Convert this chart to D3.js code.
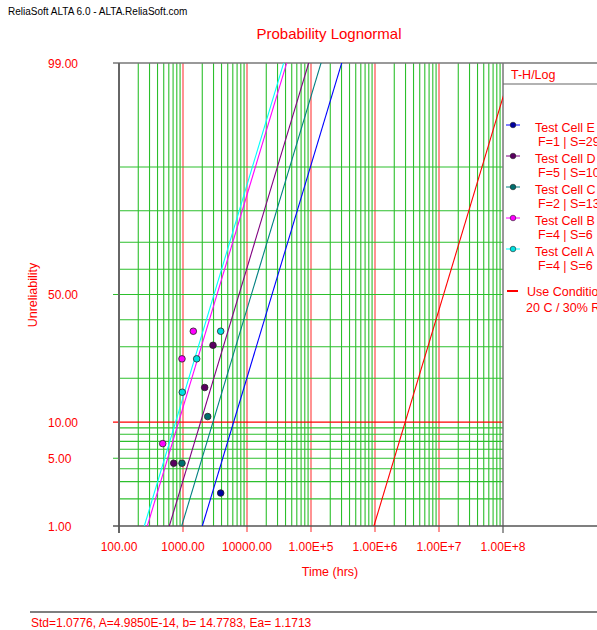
<!DOCTYPE html>
<html><head><meta charset="utf-8">
<script src="https://cdn.jsdelivr.net/npm/d3@7/dist/d3.min.js"></script>
<style>body{margin:0;background:#fff}svg{display:block}text{font-family:"Liberation Sans",Arial,sans-serif}</style>
</head><body><svg id="c" width="597" height="630"></svg>
<script>
// ---- data ----
const seriesNames = ["Test Cell E","Test Cell D","Test Cell C","Test Cell B","Test Cell A"];
const seriesInfo = ["F=1 | S=29","F=5 | S=10","F=2 | S=13","F=4 | S=6","F=4 | S=6"];
const lineColors = ["#0000ff","#800080","#008080","#ff00ff","#00ffff"];
const markColors = ["#0000a0","#5a0060","#006e6e","#ff00ff","#00e0e0"];
const medians = [24600, 7500, 11700, 3400, 3050];   // hrs at 50% unreliability
const useMedian = 1.18e7;
const sigma = 1.0776;
const timesE = [3880];            const unrelE = [2.3];
const timesD = [716, 2183, 2943]; const unrelD = [4.5, 17.5, 30.5];
const timesC = [964, 2434];       const unrelC = [4.5, 11.0];
const timesB = [482, 964, 1449];  const unrelB = [6.7, 25.9, 35.6];
const timesA = [975, 1636, 3882]; const unrelA = [16.3, 25.9, 35.6];
const xTickVals = [1e2,1e3,1e4,1e5,1e6,1e7,1e8];
const xTickLabels = ["100.00","1000.00","10000.00","1.00E+5","1.00E+6","1.00E+7","1.00E+8"];
const yTickVals = [99,50,10,5,1];
const yTickLabels = ["99.00","50.00","10.00","5.00","1.00"];
const yGridVals = [1,2,3,4,5,6,7,8,9,10,20,30,40,50,60,70,80,90];
const footer = "Std=1.0776, A=4.9850E-14, b= 14.7783, Ea= 1.1713";

const ptsTimes = [timesE,timesD,timesC,timesB,timesA];
const ptsUnrel = [unrelE,unrelD,unrelC,unrelB,unrelA];

// inverse normal (Acklam)
function qnorm(p){
  const a=[-3.969683028665376e+01,2.209460984245205e+02,-2.759285104469687e+02,1.383577518672690e+02,-3.066479806614716e+01,2.506628277459239e+00];
  const b=[-5.447609879822406e+01,1.615858368580409e+02,-1.556989798598866e+02,6.680131188771972e+01,-1.328068155288572e+01];
  const c=[-7.784894002430293e-03,-3.223964580411365e-01,-2.400758277161838e+00,-2.549732539343734e+00,4.374664141464968e+00,2.938163982698783e+00];
  const d=[7.784695709041462e-03,3.224671290700398e-01,2.445134137142996e+00,3.754408661907416e+00];
  const pl=0.02425;let q,r;
  if(p<pl){q=Math.sqrt(-2*Math.log(p));return (((((c[0]*q+c[1])*q+c[2])*q+c[3])*q+c[4])*q+c[5])/((((d[0]*q+d[1])*q+d[2])*q+d[3])*q+1);}
  if(p>1-pl){q=Math.sqrt(-2*Math.log(1-p));return -(((((c[0]*q+c[1])*q+c[2])*q+c[3])*q+c[4])*q+c[5])/((((d[0]*q+d[1])*q+d[2])*q+d[3])*q+1);}
  q=p-0.5;r=q*q;return (((((a[0]*r+a[1])*r+a[2])*r+a[3])*r+a[4])*r+a[5])*q/(((((b[0]*r+b[1])*r+b[2])*r+b[3])*r+b[4])*r+1);
}

const L=119,R=503,T=63,B=526;
const x = d3.scaleLog().domain([1e2,1e8]).range([L,R]);
const zScale = d3.scaleLinear().domain([qnorm(0.01),qnorm(0.99)]).range([B,T]);
const y = p => zScale(qnorm(p/100));

const svg = d3.select("#c");
svg.append("defs").append("clipPath").attr("id","pc").append("rect").attr("x",L).attr("y",T).attr("width",R-L).attr("height",B-T);

// header
svg.append("text").attr("x",8).attr("y",15).attr("font-size",10).attr("fill","#000").text("ReliaSoft  ALTA 6.0 - ALTA.ReliaSoft.com");
svg.append("text").attr("x",329).attr("y",39).attr("text-anchor","middle").attr("font-size",15).attr("fill","#f00").text("Probability  Lognormal");

const grid = svg.append("g");
// vertical grid
const minorX = [];
for(let e=2;e<8;e++) for(let m=2;m<=9;m++) minorX.push(m*Math.pow(10,e));
grid.selectAll("line.vx").data(minorX).enter().append("line")
  .attr("x1",d=>x(d)).attr("x2",d=>x(d)).attr("y1",T).attr("y2",B)
  .attr("stroke","#2cbf2c").attr("stroke-width",1.1);
grid.selectAll("line.vr").data(xTickVals.slice(1,-1)).enter().append("line")
  .attr("x1",d=>x(d)).attr("x2",d=>x(d)).attr("y1",T).attr("y2",B+6)
  .attr("stroke","#ff3a3a").attr("stroke-width",1.1);
// horizontal grid
grid.selectAll("line.hy").data(yGridVals.filter(v=>v!==10&&v!==1)).enter().append("line")
  .attr("x1",d=>yTickVals.includes(d)?L-6:L).attr("x2",R).attr("y1",d=>y(d)).attr("y2",d=>y(d))
  .attr("stroke","#2cbf2c").attr("stroke-width",1.1);
grid.append("line").attr("x1",L-6).attr("x2",R).attr("y1",y(10)).attr("y2",y(10)).attr("stroke","#f00").attr("stroke-width",1.2);

// frame
svg.append("line").attr("x1",L-6).attr("x2",597).attr("y1",T).attr("y2",T).attr("stroke","#777").attr("stroke-width",1.5);
svg.append("line").attr("x1",L).attr("x2",L).attr("y1",T).attr("y2",B+7).attr("stroke","#666").attr("stroke-width",2);
svg.append("line").attr("x1",R).attr("x2",R).attr("y1",T).attr("y2",B+7).attr("stroke","#777").attr("stroke-width",1.5);
svg.append("line").attr("x1",L-6).attr("x2",597).attr("y1",B).attr("y2",B).attr("stroke","#555").attr("stroke-width",1.5);
svg.append("line").attr("x1",R).attr("x2",597).attr("y1",84).attr("y2",84).attr("stroke","#666").attr("stroke-width",1.2);

// axis labels
svg.selectAll("text.xt").data(xTickVals).enter().append("text")
  .attr("x",d=>x(d)).attr("y",551).attr("text-anchor","middle").attr("font-size",12).attr("fill","#f00")
  .text((d,i)=>xTickLabels[i]);
svg.selectAll("text.yt").data(yTickVals).enter().append("text")
  .attr("x",48).attr("y",d=>y(d)+4.5).attr("font-size",12).attr("fill","#f00")
  .text((d,i)=>yTickLabels[i]);
svg.append("text").attr("x",330).attr("y",576).attr("text-anchor","middle").attr("font-size",12.5).attr("fill","#f00").text("Time (hrs)");
svg.append("text").attr("transform","translate(37,295) rotate(-90)").attr("text-anchor","middle").attr("font-size",12.5).attr("fill","#f00").text("Unreliability");

// fitted lines
const plot = svg.append("g").attr("clip-path","url(#pc)");
const zlo = qnorm(0.01), zhi = qnorm(0.99);
const lineData = medians.map((m,i)=>({m,c:lineColors[i]})).concat([{m:useMedian,c:"#f00"}]);
plot.selectAll("line.fit").data(lineData).enter().append("line")
  .attr("x1",d=>x(d.m*Math.exp(sigma*zlo))).attr("y1",zScale(zlo))
  .attr("x2",d=>x(d.m*Math.exp(sigma*(zhi+1)))).attr("y2",zScale(zhi+1))
  .attr("stroke",d=>d.c).attr("stroke-width",1.1);

// points
const pts=[];
ptsTimes.forEach((ts,i)=>ts.forEach((t,j)=>pts.push({t,u:ptsUnrel[i][j],c:markColors[i]})));
svg.selectAll("circle.pt").data(pts).enter().append("circle")
  .attr("cx",d=>x(d.t)).attr("cy",d=>y(d.u)).attr("r",3.3)
  .attr("fill",d=>d.c).attr("stroke","#222").attr("stroke-width",0.8);

// legend
const lg = svg.append("g");
lg.append("text").attr("x",511).attr("y",79).attr("font-size",12.5).attr("fill","#f00").text("T-H/Log");
seriesNames.forEach((n,i)=>{
  const yy = 125 + i*31;
  lg.append("line").attr("x1",506).attr("x2",520).attr("y1",yy).attr("y2",yy).attr("stroke",lineColors[i]).attr("stroke-width",1);
  lg.append("circle").attr("cx",513).attr("cy",yy).attr("r",2.8).attr("fill",markColors[i]).attr("stroke","#222").attr("stroke-width",0.6);
  lg.append("text").attr("x",535).attr("y",yy+7).attr("font-size",12.5).attr("fill","#f00").text(n);
  lg.append("text").attr("x",538).attr("y",yy+21).attr("font-size",12.5).attr("fill","#f00").text(seriesInfo[i]);
});
lg.append("line").attr("x1",507).attr("x2",518).attr("y1",291).attr("y2",291).attr("stroke","#f00").attr("stroke-width",2);
lg.append("text").attr("x",527).attr("y",296).attr("font-size",12.5).attr("fill","#f00").text("Use Conditions");
lg.append("text").attr("x",526).attr("y",312).attr("font-size",12.5).attr("fill","#f00").text("20 C / 30% RH");

// footer
svg.append("line").attr("x1",30).attr("x2",597).attr("y1",612).attr("y2",612).attr("stroke","#000").attr("stroke-width",1.2);
svg.append("text").attr("x",31).attr("y",627).attr("font-size",12).attr("fill","#f00").text(footer);
</script></body></html>
